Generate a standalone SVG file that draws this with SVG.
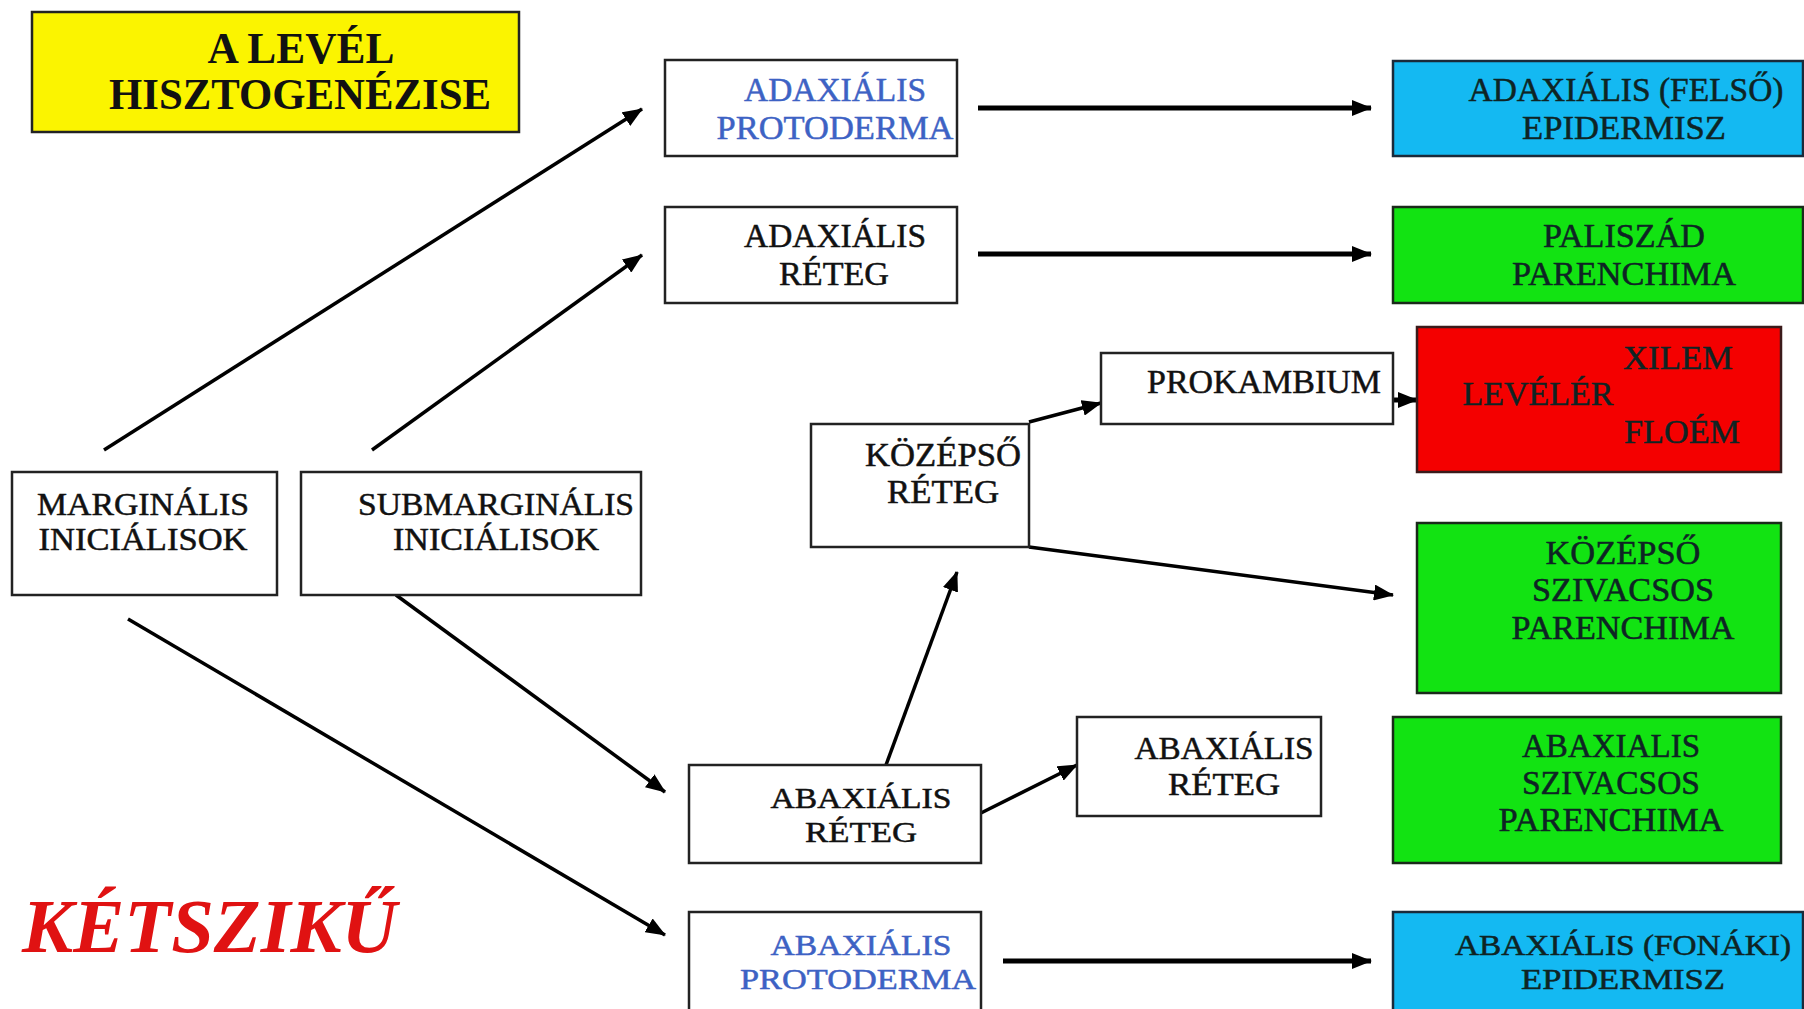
<svg xmlns="http://www.w3.org/2000/svg" width="1804" height="1009" viewBox="0 0 1804 1009">
<style>
.box{fill:#ffffff;stroke:#222;stroke-width:2.5}
.blue{fill:#14b9f2;stroke:#1a2a3a;stroke-width:2.5}
.green{fill:#12e312;stroke:#1a2a1a;stroke-width:2.5}
.red{fill:#f40000;stroke:#3a1a1a;stroke-width:2.5}
.yellow{fill:#fbf400;stroke:#222;stroke-width:2.5}
text{font-family:"Liberation Serif","Times New Roman",serif;font-size:34px;text-anchor:middle;fill:#111;stroke:#111;stroke-width:0.5}
.bt{fill:#3d62c4;stroke:#3d62c4}
.dk{fill:#0e2424;stroke:#0e2424}
.s30{font-size:30px}
.s31{font-size:31px}
.s32{font-size:32px}
.s33{font-size:33px}
.title{font-size:44px;font-weight:bold;stroke-width:0}
.ket{font-size:76px;font-weight:bold;font-style:italic;fill:#e01212;stroke-width:0;text-anchor:start}
.c{stroke:#000;stroke-width:3.5;fill:none;marker-end:url(#ah)}
.h{stroke-width:5}
</style>
<defs>
<marker id="ah" markerUnits="userSpaceOnUse" markerWidth="20" markerHeight="16" refX="19" refY="8" orient="auto">
<path d="M0,0 L20,8 L0,16 z" fill="#000"/>
</marker>
</defs>
<rect width="1804" height="1009" fill="#fff"/>
<g id="connectors">
<line class="c" x1="104" y1="450" x2="642" y2="109"/>
<line class="c" x1="372" y1="450" x2="642" y2="255"/>
<line class="c h" x1="978" y1="108" x2="1371" y2="108"/>
<line class="c h" x1="978" y1="254" x2="1371" y2="254"/>
<line class="c" x1="1029" y1="422" x2="1101" y2="403"/>
<line class="c h" x1="1394" y1="400" x2="1417" y2="400"/>
<line class="c" x1="1029" y1="547" x2="1393" y2="595"/>
<line class="c" x1="886" y1="765" x2="957" y2="572"/>
<line class="c" x1="396" y1="595" x2="665" y2="792"/>
<line class="c" x1="128" y1="619" x2="665" y2="935"/>
<line class="c" x1="981" y1="813" x2="1077" y2="765"/>
<line class="c h" x1="1003" y1="961" x2="1371" y2="961"/>
</g>
<g id="title">
<rect class="yellow" x="32" y="12" width="487" height="120"/>
<text class="title" x="301" y="63" textLength="187" lengthAdjust="spacingAndGlyphs">A LEVÉL</text>
<text class="title" x="300" y="109" textLength="382" lengthAdjust="spacingAndGlyphs">HISZTOGENÉZISE</text>
</g>
<g id="adax-protoderma">
<rect class="box" x="665" y="60" width="292" height="96"/>
<text class="bt" x="835" y="101" textLength="182" lengthAdjust="spacingAndGlyphs">ADAXIÁLIS</text>
<text class="bt" x="835" y="139" textLength="237" lengthAdjust="spacingAndGlyphs">PROTODERMA</text>
</g>
<g id="adax-reteg">
<rect class="box" x="665" y="207" width="292" height="96"/>
<text x="835" y="247" textLength="182" lengthAdjust="spacingAndGlyphs">ADAXIÁLIS</text>
<text x="834" y="285" textLength="110" lengthAdjust="spacingAndGlyphs">RÉTEG</text>
</g>
<g id="adax-epidermisz">
<rect class="blue" x="1393" y="61" width="410" height="95"/>
<text class="dk" x="1626" y="101" textLength="315" lengthAdjust="spacingAndGlyphs">ADAXIÁLIS (FELSŐ)</text>
<text class="dk" x="1624" y="139" textLength="204" lengthAdjust="spacingAndGlyphs">EPIDERMISZ</text>
</g>
<g id="paliszad">
<rect class="green" x="1393" y="207" width="410" height="96"/>
<text class="dk" x="1624" y="247" textLength="162" lengthAdjust="spacingAndGlyphs">PALISZÁD</text>
<text class="dk" x="1624" y="285" textLength="224" lengthAdjust="spacingAndGlyphs">PARENCHIMA</text>
</g>
<g id="prokambium">
<rect class="box" x="1101" y="353" width="292" height="71"/>
<text x="1264" y="393" textLength="234" lengthAdjust="spacingAndGlyphs">PROKAMBIUM</text>
</g>
<g id="leveler">
<rect class="red" x="1417" y="327" width="364" height="145"/>
<text class="dk" x="1678" y="369" textLength="110" lengthAdjust="spacingAndGlyphs">XILEM</text>
<text class="dk" x="1538" y="405" textLength="151" lengthAdjust="spacingAndGlyphs">LEVÉLÉR</text>
<text class="dk" x="1682" y="443" textLength="116" lengthAdjust="spacingAndGlyphs">FLOÉM</text>
</g>
<g id="kozepso-reteg">
<rect class="box" x="811" y="424" width="218" height="123"/>
<text class="s33" x="943" y="466" textLength="156" lengthAdjust="spacingAndGlyphs">KÖZÉPSŐ</text>
<text class="s33" x="943" y="503" textLength="112" lengthAdjust="spacingAndGlyphs">RÉTEG</text>
</g>
<g id="kozepso-szivacsos">
<rect class="green" x="1417" y="523" width="364" height="170"/>
<text class="dk s33" x="1623" y="564" textLength="155" lengthAdjust="spacingAndGlyphs">KÖZÉPSŐ</text>
<text class="dk s33" x="1623" y="601" textLength="182" lengthAdjust="spacingAndGlyphs">SZIVACSOS</text>
<text class="dk s33" x="1623" y="639" textLength="223" lengthAdjust="spacingAndGlyphs">PARENCHIMA</text>
</g>
<g id="marginalis">
<rect class="box" x="12" y="472" width="265" height="123"/>
<text class="s31" x="143" y="515" textLength="212" lengthAdjust="spacingAndGlyphs">MARGINÁLIS</text>
<text class="s31" x="143" y="550" textLength="209" lengthAdjust="spacingAndGlyphs">INICIÁLISOK</text>
</g>
<g id="submarginalis">
<rect class="box" x="301" y="472" width="340" height="123"/>
<text class="s31" x="496" y="515" textLength="276" lengthAdjust="spacingAndGlyphs">SUBMARGINÁLIS</text>
<text class="s31" x="496" y="550" textLength="206" lengthAdjust="spacingAndGlyphs">INICIÁLISOK</text>
</g>
<g id="abax-reteg">
<rect class="box" x="689" y="765" width="292" height="98"/>
<text class="s30" x="861" y="808" textLength="181" lengthAdjust="spacingAndGlyphs">ABAXIÁLIS</text>
<text class="s30" x="861" y="842" textLength="112" lengthAdjust="spacingAndGlyphs">RÉTEG</text>
</g>
<g id="abax-reteg-2">
<rect class="box" x="1077" y="717" width="244" height="99"/>
<text class="s32" x="1224" y="759" textLength="179" lengthAdjust="spacingAndGlyphs">ABAXIÁLIS</text>
<text class="s32" x="1224" y="795" textLength="112" lengthAdjust="spacingAndGlyphs">RÉTEG</text>
</g>
<g id="abax-szivacsos">
<rect class="green" x="1393" y="717" width="388" height="146"/>
<text class="dk s33" x="1611" y="757" textLength="178" lengthAdjust="spacingAndGlyphs">ABAXIALIS</text>
<text class="dk s33" x="1611" y="794" textLength="178" lengthAdjust="spacingAndGlyphs">SZIVACSOS</text>
<text class="dk s33" x="1611" y="831" textLength="225" lengthAdjust="spacingAndGlyphs">PARENCHIMA</text>
</g>
<g id="abax-protoderma">
<rect class="box" x="689" y="912" width="292" height="110"/>
<text class="bt s30" x="861" y="955" textLength="181" lengthAdjust="spacingAndGlyphs">ABAXIÁLIS</text>
<text class="bt s30" x="858" y="989" textLength="236" lengthAdjust="spacingAndGlyphs">PROTODERMA</text>
</g>
<g id="abax-epidermisz">
<rect class="blue" x="1393" y="912" width="410" height="110"/>
<text class="dk s30" x="1623" y="955" textLength="336" lengthAdjust="spacingAndGlyphs">ABAXIÁLIS (FONÁKI)</text>
<text class="dk s30" x="1623" y="989" textLength="204" lengthAdjust="spacingAndGlyphs">EPIDERMISZ</text>
</g>
<g id="ketsziku">
<text class="ket" x="22" y="952" textLength="375" lengthAdjust="spacingAndGlyphs">KÉTSZIKŰ</text>
</g>
</svg>
